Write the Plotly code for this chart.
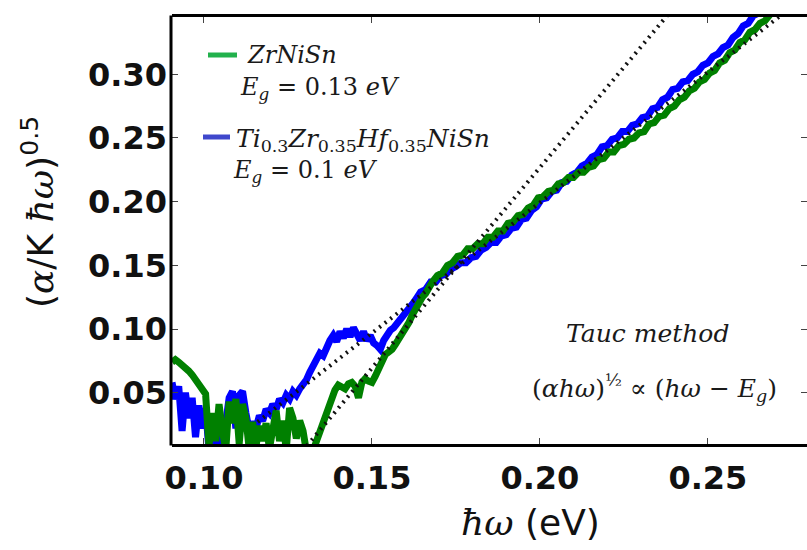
import plotly.graph_objects as go

# ---- measured absorption data, (alpha/K hw)^0.5 vs photon energy (eV) ----
ti_x = [0.0905, 0.0915, 0.0925, 0.0935, 0.0945, 0.0955, 0.0965, 0.0975, 0.0985, 0.0995,
        0.1005, 0.1015, 0.1025, 0.1035, 0.1045, 0.1055, 0.1065, 0.1075, 0.1085, 0.1095,
        0.1105, 0.1115, 0.1125, 0.1135, 0.1145, 0.1155, 0.1165, 0.1175, 0.1185, 0.1195,
        0.1205, 0.1215, 0.1225, 0.1235, 0.1245, 0.1255, 0.1265, 0.1275, 0.1285, 0.1295,
        0.1305, 0.1315, 0.1325, 0.1335, 0.1345, 0.1355, 0.1365, 0.1375, 0.1385, 0.1395,
        0.1405, 0.1415, 0.1425, 0.1435, 0.1445, 0.1455, 0.1465, 0.1475, 0.1485, 0.1495,
        0.1505, 0.1515, 0.1525, 0.1535, 0.1545, 0.1555, 0.1565, 0.1575, 0.1585, 0.1595,
        0.1605, 0.1615, 0.1625, 0.1635, 0.1645, 0.1660, 0.1675, 0.1690, 0.1705, 0.1720,
        0.1735, 0.1750, 0.1765, 0.1780, 0.1795, 0.1810, 0.1825, 0.1840, 0.1855, 0.1870,
        0.1885, 0.1900, 0.1915, 0.1930, 0.1945, 0.1960, 0.1975, 0.1990, 0.2005, 0.2020,
        0.2035, 0.2050, 0.2065, 0.2080, 0.2095, 0.2110, 0.2125, 0.2140, 0.2155, 0.2170,
        0.2185, 0.2200, 0.2215, 0.2230, 0.2245, 0.2260, 0.2275, 0.2290, 0.2305, 0.2320,
        0.2335, 0.2350, 0.2365, 0.2380, 0.2395, 0.2410, 0.2425, 0.2440, 0.2455, 0.2470,
        0.2485, 0.2500, 0.2515, 0.2530, 0.2545, 0.2560, 0.2575, 0.2590, 0.2605, 0.2620,
        0.2635, 0.2650]
ti_y = [0.058, 0.045, 0.055, 0.020, 0.050, 0.030, 0.046, 0.015, 0.040, 0.022,
        0.038, 0.005, 0.030, 0.008, 0.028, 0.004, 0.026, 0.046, 0.051, 0.022,
        0.048, 0.051, 0.034, 0.020, 0.027, 0.022, 0.032, 0.028, 0.037, 0.034,
        0.041, 0.037, 0.045, 0.042, 0.048, 0.045, 0.051, 0.048, 0.053, 0.056,
        0.060, 0.066, 0.071, 0.075, 0.081, 0.079, 0.087, 0.091, 0.095, 0.090,
        0.098, 0.093, 0.100, 0.094, 0.101, 0.095, 0.091, 0.098, 0.091, 0.095,
        0.089, 0.087, 0.084, 0.091, 0.096, 0.099, 0.101, 0.104, 0.107, 0.111,
        0.115, 0.118, 0.121, 0.125, 0.129, 0.131, 0.137, 0.137, 0.142, 0.143,
        0.147, 0.149, 0.152, 0.152, 0.156, 0.157, 0.162, 0.164, 0.168, 0.168,
        0.173, 0.174, 0.179, 0.180, 0.186, 0.187, 0.193, 0.196, 0.202, 0.203,
        0.208, 0.209, 0.215, 0.216, 0.221, 0.223, 0.228, 0.230, 0.235, 0.237,
        0.243, 0.244, 0.249, 0.250, 0.255, 0.255, 0.260, 0.261, 0.266, 0.267,
        0.273, 0.274, 0.280, 0.282, 0.288, 0.289, 0.294, 0.295, 0.300, 0.302,
        0.307, 0.309, 0.314, 0.316, 0.321, 0.323, 0.329, 0.332, 0.338, 0.340,
        0.346, 0.348]

zr_x = [0.0905, 0.0915, 0.0925, 0.0935, 0.0945, 0.0955, 0.0965, 0.0975, 0.0985, 0.0995,
        0.1005, 0.1015, 0.1025, 0.1035, 0.1045, 0.1055, 0.1065, 0.1075, 0.1085, 0.1095,
        0.1105, 0.1115, 0.1125, 0.1135, 0.1145, 0.1155, 0.1165, 0.1175, 0.1185, 0.1195,
        0.1205, 0.1215, 0.1225, 0.1235, 0.1245, 0.1255, 0.1265, 0.1275, 0.1285, 0.1295,
        0.1305, 0.1318, 0.1331, 0.1340, 0.1350, 0.1360, 0.1370, 0.1380, 0.1390, 0.1400,
        0.1410, 0.1420, 0.1430, 0.1440, 0.1450, 0.1460, 0.1470, 0.1480, 0.1490, 0.1500,
        0.1510, 0.1520, 0.1530, 0.1540, 0.1550, 0.1560, 0.1570, 0.1580, 0.1590, 0.1600,
        0.1610, 0.1620, 0.1630, 0.1640, 0.1650, 0.1660, 0.1670, 0.1680, 0.1695, 0.1710,
        0.1725, 0.1740, 0.1755, 0.1770, 0.1785, 0.1800, 0.1815, 0.1830, 0.1845, 0.1860,
        0.1875, 0.1890, 0.1905, 0.1920, 0.1935, 0.1950, 0.1965, 0.1980, 0.1995, 0.2010,
        0.2025, 0.2040, 0.2055, 0.2070, 0.2085, 0.2100, 0.2115, 0.2130, 0.2145, 0.2160,
        0.2175, 0.2190, 0.2205, 0.2220, 0.2235, 0.2250, 0.2265, 0.2280, 0.2295, 0.2310,
        0.2325, 0.2340, 0.2355, 0.2370, 0.2385, 0.2400, 0.2415, 0.2430, 0.2445, 0.2460,
        0.2475, 0.2490, 0.2505, 0.2520, 0.2535, 0.2550, 0.2565, 0.2580, 0.2595, 0.2610,
        0.2625, 0.2640, 0.2655, 0.2670, 0.2685]
zr_y = [0.074, 0.076, 0.074, 0.072, 0.070, 0.067, 0.064, 0.060, 0.057, 0.053,
        0.049, 0.008, 0.034, 0.012, 0.041, 0.020, 0.005, 0.043, 0.026, 0.045,
        0.010, 0.041, 0.030, 0.005, 0.027, 0.008, 0.024, 0.012, 0.026, 0.006,
        0.022, 0.036, 0.012, 0.028, 0.005, 0.038, 0.030, 0.014, 0.028, 0.020,
        0.004, 0.000, 0.009, 0.016, 0.022, 0.030, 0.037, 0.047, 0.052, 0.056,
        0.054, 0.053, 0.057, 0.058, 0.055, 0.046, 0.058, 0.061, 0.059, 0.058,
        0.063, 0.069, 0.075, 0.080, 0.082, 0.084, 0.088, 0.092, 0.096, 0.100,
        0.105, 0.111, 0.116, 0.121, 0.125, 0.128, 0.133, 0.137, 0.142, 0.144,
        0.150, 0.152, 0.157, 0.158, 0.163, 0.163, 0.167, 0.167, 0.172, 0.172,
        0.177, 0.177, 0.183, 0.184, 0.189, 0.190, 0.195, 0.197, 0.203, 0.204,
        0.208, 0.209, 0.214, 0.215, 0.219, 0.219, 0.223, 0.223, 0.227, 0.228,
        0.233, 0.234, 0.239, 0.239, 0.244, 0.245, 0.249, 0.250, 0.254, 0.255,
        0.261, 0.262, 0.267, 0.268, 0.273, 0.275, 0.280, 0.282, 0.287, 0.289,
        0.294, 0.296, 0.301, 0.303, 0.309, 0.311, 0.317, 0.319, 0.325, 0.327,
        0.333, 0.335, 0.340, 0.342, 0.347]

# ---- Tauc linear fits: slope and band-gap intercept, plus drawn x-span ----
zr_fit_slope, zr_fit_eg, zr_fit_span = 3.15, 0.128, (0.128, 0.242)
ti_fit_slope, ti_fit_eg, ti_fit_span = 2.05, 0.1028, (0.116, 0.276)

x_ticks = [0.10, 0.15, 0.20, 0.25]
y_ticks = [0.05, 0.10, 0.15, 0.20, 0.25, 0.30]
x_range = [0.0905, 0.2795]
y_range = [0.0097, 0.345]


def fit_line(slope, eg, span):
    xs = list(span)
    return xs, [slope * (x - eg) for x in xs]


fig = go.Figure()

fig.add_trace(go.Scatter(x=ti_x, y=ti_y, mode="lines",
                         line=dict(color="#0000ff", width=7), showlegend=False))
fig.add_trace(go.Scatter(x=zr_x, y=zr_y, mode="lines",
                         line=dict(color="#008000", width=7), showlegend=False))

for slope, eg, span in [(zr_fit_slope, zr_fit_eg, zr_fit_span),
                        (ti_fit_slope, ti_fit_eg, ti_fit_span)]:
    fx, fy = fit_line(slope, eg, span)
    fig.add_trace(go.Scatter(x=fx, y=fy, mode="lines",
                             line=dict(color="#111111", width=4, dash="2px,5px"),
                             showlegend=False))

tick_font = dict(family="DejaVu Sans", size=32, color="#111111", weight="bold")

fig.update_xaxes(range=x_range, tickvals=x_ticks, ticktext=[f"{v:.2f}" for v in x_ticks],
                 showgrid=False, zeroline=False, showline=True, linecolor="black",
                 linewidth=3, mirror="ticks", ticks="inside", ticklen=6, tickwidth=1,
                 tickcolor="#444444", tickfont=tick_font, ticklabelstandoff=4)
# left spine is drawn as a shape so the mirrored (right) side carries ticks only
fig.update_yaxes(range=y_range, tickvals=y_ticks, ticktext=[f"{v:.2f}" for v in y_ticks],
                 showgrid=False, zeroline=False, showline=False,
                 mirror="ticks", ticks="inside", ticklen=6, tickwidth=1,
                 tickcolor="#444444", tickfont=tick_font, ticklabelstandoff=4)

W, H = 807, 550
L, R, T, B = 172, 0, 17, 106
pw, ph = W - L - R, H - T - B


def px(xp):
    return (xp - L) / pw


def py(yp):
    return (H - B - yp) / ph


fig.add_shape(type="line", xref="paper", yref="paper", x0=px(171), x1=px(171),
              y0=py(T - 1.5), y1=py(H - B + 1.5), line=dict(color="black", width=3))

serif = "DejaVu Serif"
txt = "#1a1a1a"
annos = [
    dict(x=px(245), y=py(55), text="<i>ZrNiSn</i>", xanchor="left"),
    dict(x=px(238), y=py(89), text="<i>E</i><sub><i>g</i></sub> = 0.13 <i>eV</i>", xanchor="left"),
    dict(x=px(234), y=py(140),
         text="<i>Ti</i><sub>0.3</sub><i>Zr</i><sub>0.35</sub><i>Hf</i><sub>0.35</sub><i>NiSn</i>",
         xanchor="left"),
    dict(x=px(231), y=py(172), text="<i>E</i><sub><i>g</i></sub> = 0.1 <i>eV</i>", xanchor="left"),
    dict(x=px(647), y=py(333), text="<i>Tauc method</i>", xanchor="center"),
    dict(x=px(654), y=py(388),
         text="(<i>αhω</i>)<sup>½</sup> ∝ (<i>hω</i> − <i>E</i><sub><i>g</i></sub>)",
         xanchor="center"),
]
sizes = [24, 24, 25, 24, 25, 25]
for a, s in zip(annos, sizes):
    fig.add_annotation(xref="paper", yref="paper", showarrow=False, yanchor="middle",
                       font=dict(family=serif, size=s, color=txt), **a)

# axis titles
fig.add_annotation(xref="paper", yref="paper", x=px(530), y=py(522), showarrow=False,
                   text="<span style='font-family:DejaVu Serif'><i>ħω</i></span> (eV)",
                   font=dict(family="DejaVu Sans", size=36, color="#111111"),
                   xanchor="center", yanchor="middle")
fig.add_annotation(xref="paper", yref="paper", x=px(38), y=py(212), showarrow=False,
                   text="(<span style='font-family:DejaVu Serif'><i>α</i></span>/K "
                        "<span style='font-family:DejaVu Serif'><i>ħω</i></span>)<sup>0.5</sup>",
                   font=dict(family="DejaVu Sans", size=36, color="#111111"),
                   textangle=-90, xanchor="center", yanchor="middle")

# legend line samples
fig.add_shape(type="line", xref="paper", yref="paper", x0=px(208), x1=px(237),
              y0=py(55), y1=py(55), line=dict(color="#22b14c", width=5))
fig.add_shape(type="line", xref="paper", yref="paper", x0=px(203), x1=px(230),
              y0=py(137), y1=py(137), line=dict(color="#3f48cc", width=5))

fig.update_layout(width=W, height=H, margin=dict(l=L, r=R, t=T, b=B, pad=0),
                  paper_bgcolor="white", plot_bgcolor="white", showlegend=False)

fig.write_html("out.html")
